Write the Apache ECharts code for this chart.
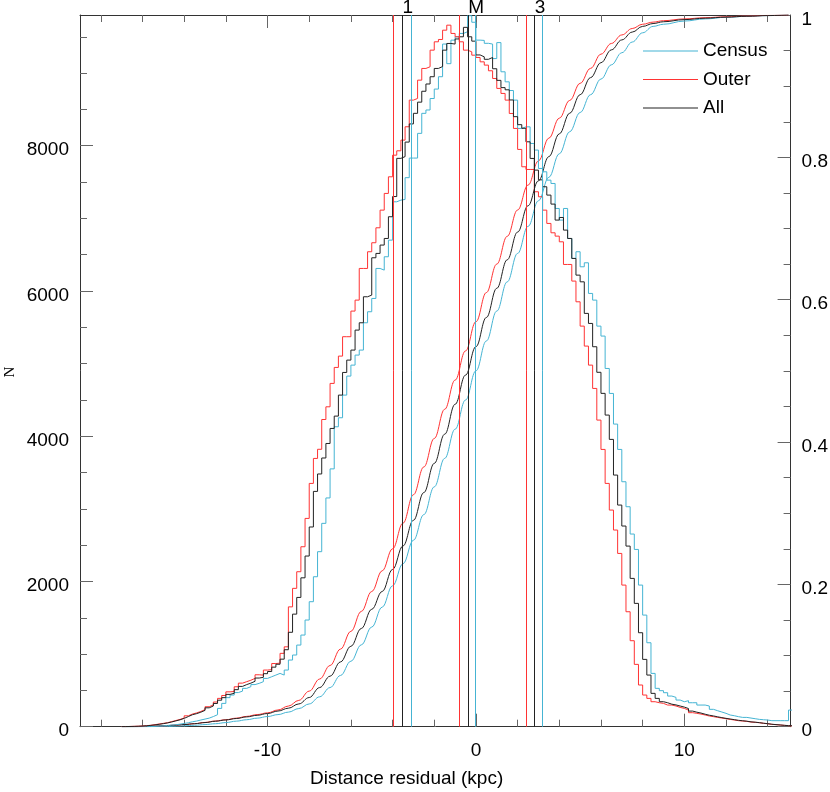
<!DOCTYPE html>
<html><head><meta charset="utf-8">
<script src="https://cdn.jsdelivr.net/npm/echarts@6/dist/echarts.min.js"></script>
<style>html,body{margin:0;padding:0;background:#fff}#c{width:830px;height:792px}</style>
</head><body><div id="c"></div>
<script>
// ---- data ----
const binStart = -17.0;
const binWidth = 0.2;
const seriesNames = ['Census', 'Outer', 'All'];

const censusCounts = [
  0, 0, 0, 0, 1,
  1, 2, 4, 8, 12,
  17, 22, 27, 35, 45,
  55, 68, 78, 92, 105,
  118, 140, 165, 252, 321,
  400, 436, 470, 490, 528,
  551, 580, 597, 620, 665,
  688, 711, 734, 711, 780,
  918, 987, 1124, 1262, 1469,
  1721, 2065, 2410, 2800, 3150,
  3550, 4130, 4254, 4566, 4828,
  4979, 5117, 5186, 5562, 5714,
  5897, 6310, 6287, 6471, 6700,
  7228, 7251, 7260, 7560, 7830,
  7830, 8170, 8446, 8492, 8650,
  8780, 8950, 9400, 9130, 9454,
  9500, 9546, 9570, 9790, 9700,
  9454, 9450, 9410, 9400, 9200,
  9420, 9018, 8880, 8760, 8628,
  8238, 8260, 8260, 8031, 7940,
  7687, 7641, 7526, 7480, 7136,
  6976, 7136, 6723, 6448, 6540,
  6333, 6388, 5966, 5874, 5516,
  5379, 4933, 4589, 4167, 3818,
  3373, 3029, 2653, 2441, 1950,
  1537, 1156, 734, 528, 496,
  468, 422, 404, 367, 344,
  358, 330, 330, 298, 298,
  285, 239, 220, 202, 184,
  161, 151, 138, 128, 128,
  119, 110, 101, 96, 92,
  83, 83, 83, 83, 83,
  229
];
const outerCounts = [
  2, 3, 5, 7, 10,
  14, 20, 28, 37, 46,
  55, 70, 85, 100, 120,
  150, 175, 190, 210, 235,
  275, 300, 340, 390, 430,
  480, 485, 550, 600, 620,
  640, 665, 715, 710, 780,
  785, 870, 875, 1010, 1100,
  1650, 1905, 2134, 2478, 2868,
  3350, 3694, 3820, 4230, 4405,
  4727, 4947, 5103, 5370, 5370,
  5723, 5874, 6310, 6310, 6540,
  6664, 6870, 7113, 7343, 7572,
  7870, 7930, 8077, 8261, 8628,
  8651, 8903, 9064, 9087, 9316,
  9431, 9463, 9591, 9660, 9546,
  9500, 9431, 9316, 9293, 9247,
  9215, 9155, 9110, 9032, 8926,
  8789, 8720, 8628, 8444, 8238,
  7949, 7710, 7673, 7673, 7366,
  7297, 7113, 6930, 6801, 6755,
  6677, 6365, 6365, 6136, 5851,
  5516, 5241, 4979, 4658, 4222,
  3818, 3350, 2983, 2708, 2386,
  1950, 1583, 1184, 858, 574,
  436, 390, 344, 330, 321,
  298, 298, 285, 266, 252,
  229, 193, 184, 174, 161,
  147, 138, 128, 119, 110,
  101, 92, 83, 78, 73,
  64, 60, 55, 46, 41,
  32, 28, 23, 18, 14,
  10
];
const allCounts = [
  2, 3, 4, 6, 9,
  13, 18, 25, 33, 42,
  52, 65, 80, 95, 115,
  140, 165, 180, 200, 225,
  260, 285, 320, 365, 400,
  445, 460, 510, 555, 580,
  600, 625, 670, 680, 730,
  760, 820, 860, 930, 1060,
  1300, 1550, 1780, 2050, 2350,
  2750, 3240, 3480, 3700, 3900,
  4107, 4277, 4566, 4878, 5048,
  5186, 5461, 5562, 5920, 5943,
  6457, 6517, 6632, 6723, 7022,
  7300, 7826, 7850, 8050, 8300,
  8446, 8600, 8750, 8850, 8950,
  9064, 9090, 9316, 9408, 9400,
  9470, 9500, 9630, 9500, 9440,
  9250, 9224, 9190, 9215, 9060,
  8900, 8800, 8770, 8630, 8400,
  8290, 8240, 8054, 7825, 7664,
  7530, 7435, 7320, 7196, 6976,
  7012, 6838, 6723, 6448, 6218,
  6126, 5691, 5553, 5232, 4880,
  4590, 4291, 3956, 3465, 3052,
  2763, 2487, 2042, 1698, 1294,
  927, 711, 459, 390, 344,
  330, 310, 300, 285, 270,
  250, 215, 200, 188, 172,
  158, 148, 136, 125, 115,
  106, 97, 88, 82, 76,
  67, 62, 56, 48, 42,
  34, 29, 24, 19, 15,
  12
];

// cumulative fractions (right axis), sampled along x
const cdfX = [-17, -16.5, -16, -15.5, -15, -14.5, -14, -13.5, -13, -12.5, -12, -11.5, -11, -10.5, -10,
  -9.5, -9, -8.5, -8, -7.5, -7, -6.5, -6, -5.5, -5, -4.5, -4, -3.5, -3, -2.5, -2, -1.5, -1, -0.5,
  0, 0.5, 1, 1.5, 2, 2.5, 3, 3.5, 4, 4.5, 5, 5.5, 6, 6.5, 7, 7.5, 8, 8.5, 9, 10, 11, 12, 13, 14, 15];
const outerCdf = [0, 0.0001, 0.0003, 0.0007, 0.0012, 0.002, 0.003, 0.0043, 0.006, 0.008, 0.0098, 0.012, 0.0145, 0.017, 0.0195,
  0.0235, 0.029, 0.037, 0.05, 0.067, 0.086, 0.109, 0.134, 0.162, 0.19, 0.219, 0.25, 0.286, 0.326, 0.365, 0.405, 0.446, 0.487, 0.528,
  0.569, 0.61, 0.65, 0.689, 0.726, 0.761, 0.795, 0.827, 0.855, 0.88, 0.904, 0.925, 0.945, 0.96, 0.972, 0.981, 0.987, 0.99, 0.992,
  0.9945, 0.9962, 0.9975, 0.9985, 0.9994, 1];
const allCdf = [0, 0.0001, 0.0003, 0.0007, 0.0012, 0.002, 0.003, 0.0042, 0.0058, 0.0077, 0.0095, 0.0115, 0.0138, 0.016, 0.0185,
  0.022, 0.026, 0.032, 0.041, 0.055, 0.071, 0.091, 0.113, 0.138, 0.165, 0.19, 0.221, 0.254, 0.29, 0.329, 0.37, 0.411, 0.453, 0.494,
  0.534, 0.575, 0.616, 0.656, 0.695, 0.732, 0.767, 0.801, 0.833, 0.862, 0.888, 0.912, 0.933, 0.951, 0.965, 0.976, 0.984, 0.988, 0.9905,
  0.9935, 0.9955, 0.997, 0.9982, 0.9992, 1];
const censusCdf = [0, 0, 0, 0.0001, 0.0003, 0.0007, 0.0013, 0.002, 0.003, 0.0042, 0.0058, 0.0078, 0.0098, 0.012, 0.0143,
  0.017, 0.0205, 0.0255, 0.032, 0.042, 0.055, 0.072, 0.092, 0.115, 0.14, 0.168, 0.198, 0.229, 0.262, 0.298, 0.337, 0.377, 0.418, 0.459,
  0.5, 0.542, 0.584, 0.625, 0.665, 0.703, 0.739, 0.772, 0.805, 0.836, 0.863, 0.888, 0.91, 0.93, 0.947, 0.962, 0.975, 0.984, 0.987,
  0.9915, 0.9945, 0.9968, 0.9982, 0.9992, 1];

// quartiles: lower quartile, median, upper quartile
const censusQuartiles = [-3.12, -0.01, 3.19];
const outerQuartiles = [-3.95, -0.80, 2.40];
const allQuartiles = [-3.52, -0.37, 2.82];
const quartileLabels = ['1', 'M', '3'];

const xMajorTicks = [-10, 0, 10];
const xMinorTicks = [-18, -16, -14, -12, -8, -6, -4, -2, 2, 4, 6, 8, 12, 14];
const yLeftMajor = [0, 2000, 4000, 6000, 8000];
const yLeftMinor = [500, 1000, 1500, 2500, 3000, 3500, 4500, 5000, 5500, 6500, 7000, 7500, 8500, 9000, 9500];
const yRightMajor = [0, 0.2, 0.4, 0.6, 0.8, 1];
const yRightMinor = [0.05, 0.1, 0.15, 0.25, 0.3, 0.35, 0.45, 0.5, 0.55, 0.65, 0.7, 0.75, 0.85, 0.9, 0.95];
const xTitle = 'Distance residual (kpc)';
const yTitle = 'N';

// ---- styling ----
const COLORS = { Census: '#45b4d3', Outer: '#ff3333', All: '#222222' };
const FONT = '"Liberation Sans", Arial, Helvetica, sans-serif';
const AXIS_COLOR = '#333';
const TICK_COLOR = '#666';

function histData(counts) {
  const d = counts.map((v, i) => [+(binStart + i * binWidth).toFixed(2), v]);
  d.push([+(binStart + counts.length * binWidth).toFixed(2), counts[counts.length - 1]]);
  return d;
}
function cdfData(vals) { return cdfX.map((x, i) => [x, vals[i]]); }
const plain = v => String(+v.toFixed(4));

function xAxisDef(pos, ticks, len, showLine, showLabel) {
  return {
    type: 'value', min: -19, max: 15.1, position: pos,
    axisLine: { show: showLine, onZero: false, lineStyle: { color: AXIS_COLOR, width: 1 } },
    axisTick: { show: true, inside: true, length: len, customValues: ticks, lineStyle: { color: TICK_COLOR, width: 1 } },
    axisLabel: { show: showLabel, customValues: ticks, formatter: plain, margin: 15, fontSize: 19, color: '#000', fontFamily: FONT },
    splitLine: { show: false }
  };
}
function yAxisDef(pos, max, ticks, len, showLine, showLabel) {
  return {
    type: 'value', min: 0, max: max, position: pos,
    axisLine: { show: showLine, onZero: false, lineStyle: { color: AXIS_COLOR, width: 1 } },
    axisTick: { show: true, inside: true, length: len, customValues: ticks, lineStyle: { color: TICK_COLOR, width: 1 } },
    axisLabel: { show: showLabel, customValues: ticks, formatter: plain, margin: 11, fontSize: 19, color: '#000', fontFamily: FONT,
      verticalAlign: 'top', lineHeight: 9 },
    splitLine: { show: false }
  };
}

const histSets = [
  ['Census', censusCounts, censusQuartiles],
  ['Outer', outerCounts, outerQuartiles],
  ['All', allCounts, allQuartiles]
];
const cdfSets = [['Census', censusCdf], ['Outer', outerCdf], ['All', allCdf]];

const series = [];
cdfSets.forEach(([name, vals]) => {
  series.push({
    name: name + ' cumulative', type: 'line', xAxisIndex: 0, yAxisIndex: 2,
    data: cdfData(vals), smooth: 0.4, smoothMonotone: 'x', symbol: 'none', showSymbol: false,
    lineStyle: { color: COLORS[name], width: 1 }, itemStyle: { color: COLORS[name] }, silent: true, z: 3
  });
});
histSets.forEach(([name, counts, q]) => {
  series.push({
    name: name, type: 'line', step: 'end', xAxisIndex: 0, yAxisIndex: 0,
    data: histData(counts), symbol: 'none', showSymbol: false, clip: true,
    lineStyle: { color: COLORS[name], width: 1 }, itemStyle: { color: COLORS[name] }, z: 4,
    markLine: {
      silent: true, symbol: ['none', 'none'], label: { show: false },
      lineStyle: { color: COLORS[name], width: 1, type: 'solid' },
      emphasis: { disabled: true },
      data: q.map(v => ({ xAxis: v }))
    }
  });
});

const chart = echarts.init(document.getElementById('c'), null, { renderer: 'canvas' });
const option = {
  animation: false,
  backgroundColor: '#fff',
  grid: { left: 80, right: 39.4, top: 15, bottom: 65.3, containLabel: false, outerBoundsMode: 'none' },
  xAxis: [
    xAxisDef('bottom', xMajorTicks, 13, true, true),
    xAxisDef('bottom', xMinorTicks, 7, false, false),
    xAxisDef('top', xMajorTicks, 13, true, false),
    xAxisDef('top', xMinorTicks, 7, false, false)
  ],
  yAxis: [
    yAxisDef('left', 9800, yLeftMajor, 13, true, true),
    yAxisDef('left', 9800, yLeftMinor, 7, false, false),
    yAxisDef('right', 1, yRightMajor, 13, true, true),
    yAxisDef('right', 1, yRightMinor, 7, false, false)
  ],
  legend: {
    data: seriesNames, orient: 'vertical', left: 643, top: 41.5, padding: 0,
    icon: 'rect', itemWidth: 55, itemHeight: 1, itemGap: 9.5,
    textStyle: { fontSize: 19, color: '#000', fontFamily: FONT, lineHeight: 19 },
    selectedMode: false
  },
  series: series
};
chart.setOption(option);

const graphics = [
  { type: 'text', x: 310, y: 779, style: { text: xTitle, fontSize: 19, fontFamily: FONT, fill: '#000', align: 'left', verticalAlign: 'middle' } },
  { type: 'text', x: 10, y: 372, rotation: Math.PI / 2, style: { text: yTitle, fontSize: 15, fontFamily: '"Liberation Serif", "Times New Roman", serif', fill: '#000', align: 'center', verticalAlign: 'middle' } }
];
allQuartiles.forEach((v, i) => {
  const px = chart.convertToPixel({ xAxisIndex: 0 }, v);
  graphics.push({ type: 'text', x: px, y: 8, style: { text: quartileLabels[i], fontSize: 19, fontFamily: FONT, fill: '#000', align: 'left', verticalAlign: 'middle' } });
});
chart.setOption({ graphic: graphics });
</script></body></html>
